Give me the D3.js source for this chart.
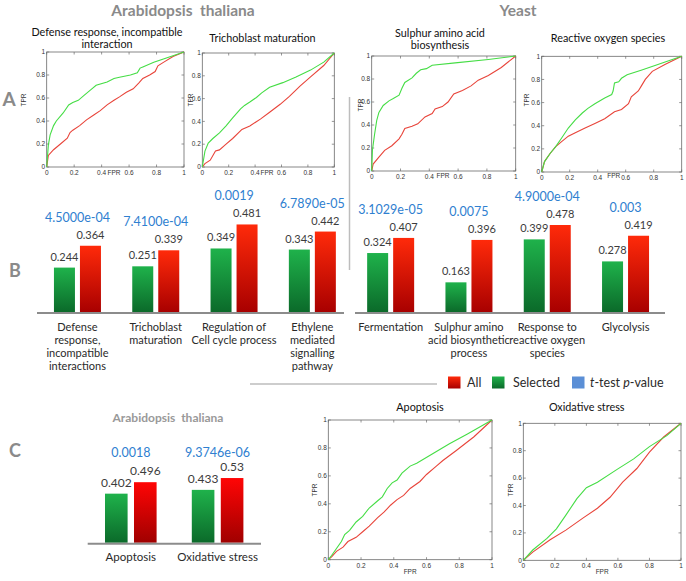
<!DOCTYPE html>
<html><head><meta charset="utf-8">
<script src="https://cdn.jsdelivr.net/npm/d3@7"></script>
<style>body{margin:0;background:#fff} svg{display:block} text{white-space:pre}</style>
</head><body>
<svg id="c" width="686" height="581"></svg>
<script>
// ---------- DATA ----------
const arabCategories = [["Defense","response,","incompatible","interactions"],["Trichoblast","maturation"],["Regulation of","Cell cycle process"],["Ethylene","mediated","signalling","pathway"]];
const arabSelected = [0.244, 0.251, 0.349, 0.343];
const arabAll = [0.364, 0.339, 0.481, 0.442];
const arabPValues = ["4.5000e-04", "7.4100e-04", "0.0019", "6.7890e-05"];

const yeastCategories = [["Fermentation"],["Sulphur amino","acid biosynthetic","process"],["Response to","reactive oxygen","species"],["Glycolysis"]];
const yeastSelected = [0.324, 0.163, 0.399, 0.278];
const yeastAll = [0.407, 0.396, 0.478, 0.419];
const yeastPValues = ["3.1029e-05", "0.0075", "4.9000e-04", "0.003"];

const cCategories = ["Apoptosis", "Oxidative stress"];
const cSelected = [0.402, 0.433];
const cAll = [0.496, 0.53];
const cPValues = ["0.0018", "9.3746e-06"];

const rocTicks = [0, 0.2, 0.4, 0.6, 0.8, 1];
const rocTickLabels = ["0", "0.2", "0.4", "0.6", "0.8", "1"];

const rocDefenseSel = [[0,0],[0.012,0.19],[0.025,0.28],[0.05,0.36],[0.07,0.40],[0.12,0.47],[0.16,0.54],[0.19,0.56],[0.23,0.58],[0.27,0.62],[0.32,0.67],[0.36,0.71],[0.44,0.74],[0.49,0.77],[0.53,0.78],[0.61,0.80],[0.66,0.82],[0.68,0.86],[0.70,0.87],[0.78,0.91],[0.85,0.94],[1,1]];
const rocDefenseAll = [[0,0],[0.012,0.10],[0.05,0.15],[0.10,0.20],[0.15,0.25],[0.17,0.30],[0.19,0.32],[0.24,0.36],[0.29,0.41],[0.34,0.45],[0.39,0.49],[0.44,0.54],[0.49,0.58],[0.53,0.61],[0.58,0.65],[0.63,0.68],[0.67,0.73],[0.70,0.77],[0.75,0.80],[0.79,0.83],[0.81,0.88],[0.85,0.91],[0.92,0.96],[1,1]];
const rocTrichoSel = [[0,0],[0.02,0.14],[0.045,0.21],[0.08,0.25],[0.13,0.30],[0.18,0.36],[0.23,0.43],[0.29,0.51],[0.32,0.54],[0.36,0.57],[0.41,0.61],[0.45,0.65],[0.51,0.70],[0.61,0.74],[0.71,0.79],[0.82,0.85],[0.92,0.92],[1,1]];
const rocTrichoAll = [[0,0],[0.02,0.03],[0.06,0.06],[0.10,0.14],[0.13,0.15],[0.18,0.20],[0.23,0.25],[0.30,0.33],[0.36,0.36],[0.44,0.42],[0.51,0.48],[0.59,0.55],[0.66,0.62],[0.74,0.71],[0.82,0.79],[0.92,0.89],[1,1]];
const rocSulphurSel = [[0,0],[0.005,0.18],[0.02,0.32],[0.035,0.44],[0.05,0.51],[0.08,0.57],[0.12,0.61],[0.15,0.63],[0.19,0.66],[0.21,0.72],[0.23,0.77],[0.28,0.81],[0.31,0.85],[0.34,0.88],[0.38,0.89],[0.42,0.92],[0.58,0.94],[0.81,0.97],[1,1]];
const rocSulphurAll = [[0,0],[0.01,0.06],[0.05,0.12],[0.09,0.18],[0.14,0.22],[0.19,0.28],[0.21,0.32],[0.23,0.37],[0.28,0.39],[0.32,0.41],[0.37,0.47],[0.42,0.50],[0.44,0.54],[0.49,0.56],[0.53,0.60],[0.57,0.67],[0.63,0.70],[0.69,0.74],[0.74,0.79],[0.81,0.83],[0.90,0.90],[1,1]];
const rocRosSel = [[0,0],[0.02,0.09],[0.06,0.16],[0.10,0.22],[0.14,0.29],[0.19,0.38],[0.24,0.45],[0.29,0.51],[0.33,0.55],[0.38,0.59],[0.45,0.64],[0.50,0.67],[0.51,0.70],[0.52,0.77],[0.55,0.78],[0.57,0.81],[0.61,0.84],[0.71,0.88],[0.83,0.93],[1,1]];
const rocRosAll = [[0,0],[0.02,0.09],[0.06,0.16],[0.10,0.22],[0.14,0.26],[0.19,0.31],[0.24,0.34],[0.31,0.38],[0.38,0.42],[0.45,0.46],[0.52,0.52],[0.57,0.54],[0.62,0.59],[0.64,0.65],[0.69,0.70],[0.71,0.74],[0.74,0.80],[0.79,0.87],[0.88,0.93],[1,1]];
const rocApoptosisSel = [[0,0],[0.02,0.03],[0.05,0.08],[0.08,0.13],[0.10,0.18],[0.13,0.21],[0.17,0.27],[0.21,0.31],[0.25,0.37],[0.30,0.42],[0.33,0.45],[0.36,0.51],[0.39,0.55],[0.42,0.57],[0.45,0.62],[0.50,0.67],[0.54,0.69],[0.64,0.76],[0.74,0.83],[0.85,0.90],[1,1]];
const rocApoptosisAll = [[0,0],[0.02,0.02],[0.05,0.06],[0.09,0.09],[0.12,0.13],[0.17,0.16],[0.21,0.20],[0.25,0.24],[0.30,0.30],[0.34,0.34],[0.38,0.39],[0.42,0.43],[0.46,0.46],[0.50,0.51],[0.56,0.56],[0.60,0.61],[0.66,0.67],[0.70,0.71],[0.78,0.78],[0.89,0.88],[1,1]];
const rocOxidativeSel = [[0,0],[0.06,0.075],[0.15,0.16],[0.21,0.23],[0.27,0.33],[0.34,0.45],[0.40,0.53],[0.47,0.57],[0.59,0.66],[0.70,0.74],[0.80,0.83],[0.91,0.91],[1,1]];
const rocOxidativeAll = [[0,0],[0.06,0.06],[0.17,0.15],[0.27,0.22],[0.38,0.31],[0.47,0.38],[0.55,0.46],[0.63,0.57],[0.72,0.67],[0.80,0.79],[0.89,0.90],[1,1]];

const legendLabels = ["All", "Selected"];

// ---------- DRAW ----------
const svg = d3.select("#c");
const FONT = "Lato, 'Open Sans', sans-serif";
const TICKFONT = "'Liberation Sans', Arial, sans-serif";
const GREEN_LINE = "#45dd45", RED_LINE = "#e8443a";
const BLUE = "#2f80d0", HEAD = "#8a8a8a";

const defs = svg.append("defs");
function grad(id, top, bottom) {
  const g = defs.append("linearGradient").attr("id", id).attr("x1",0).attr("y1",0).attr("x2",0).attr("y2",1);
  g.append("stop").attr("offset","0%").attr("stop-color",top);
  g.append("stop").attr("offset","100%").attr("stop-color",bottom);
}
grad("gGreen", "#1fb24b", "#0b6a2a");
grad("gRed", "#ff2a0a", "#a80000");
grad("gRedC", "#ff0505", "#a00000");

function txt(x, y, s, o = {}) {
  return svg.append("text").attr("x", x).attr("y", y).text(s)
    .attr("font-family", o.family || FONT).attr("font-size", o.size || 11)
    .attr("font-weight", o.weight || "normal").attr("fill", o.fill || "#222")
    .attr("text-anchor", o.anchor || "middle");
}
txt(183, 16, "Arabidopsis  thaliana", {size: 15.5, weight: "bold", fill: HEAD});
txt(518, 16, "Yeast", {size: 15.5, weight: "bold", fill: HEAD});
txt(9, 106, "A", {size: 19, weight: "bold", fill: HEAD});
txt(15, 277, "B", {size: 18, weight: "bold", fill: HEAD});
txt(15, 457, "C", {size: 18, weight: "bold", fill: HEAD});
txt(168, 422, "Arabidopsis  thaliana", {size: 12, weight: "bold", fill: "#999"});

svg.append("line").attr("x1", 349.5).attr("x2", 349.5).attr("y1", 97).attr("y2", 270).attr("stroke", "#bdbdbd").attr("stroke-width", 1.5);
svg.append("line").attr("x1", 250).attr("x2", 437).attr("y1", 384).attr("y2", 384).attr("stroke", "#bdbdbd").attr("stroke-width", 1.5);

// ---------- ROC panels ----------
function rocPanel(cfg, sel, all) {
  const x = d3.scaleLinear().domain([0,1]).range([cfg.x0, cfg.x1]);
  const y = d3.scaleLinear().domain([0,1]).range([cfg.y1, cfg.y0]);
  const g = svg.append("g");
  g.append("rect").attr("x", cfg.x0).attr("y", cfg.y0).attr("width", cfg.x1-cfg.x0).attr("height", cfg.y1-cfg.y0)
    .attr("fill", "#fff").attr("stroke", "#6a6a6a").attr("stroke-width", 0.8);
  const tl = 2.5;
  rocTicks.forEach((t, i) => {
    g.append("line").attr("x1", x(t)).attr("x2", x(t)).attr("y1", cfg.y1).attr("y2", cfg.y1-tl).attr("stroke", "#6a6a6a").attr("stroke-width", 0.7);
    g.append("line").attr("x1", x(t)).attr("x2", x(t)).attr("y1", cfg.y0).attr("y2", cfg.y0+tl).attr("stroke", "#6a6a6a").attr("stroke-width", 0.7);
    g.append("line").attr("y1", y(t)).attr("y2", y(t)).attr("x1", cfg.x0).attr("x2", cfg.x0+tl).attr("stroke", "#6a6a6a").attr("stroke-width", 0.7);
    g.append("line").attr("y1", y(t)).attr("y2", y(t)).attr("x1", cfg.x1).attr("x2", cfg.x1-tl).attr("stroke", "#6a6a6a").attr("stroke-width", 0.7);
    g.append("text").attr("x", x(t)).attr("y", cfg.y1 + 8).text(rocTickLabels[i])
      .attr("font-family", TICKFONT).attr("font-size", 6.5).attr("fill", "#333").attr("text-anchor", "middle");
    g.append("text").attr("x", cfg.x0 - 1.5).attr("y", y(t) + 2.2).text(rocTickLabels[i])
      .attr("font-family", TICKFONT).attr("font-size", 6.5).attr("fill", "#333").attr("text-anchor", "end");
  });
  const line = d3.line().x(d => x(d[0])).y(d => y(d[1]));
  g.append("path").attr("d", line(all)).attr("fill", "none").attr("stroke", RED_LINE).attr("stroke-width", 1.1);
  g.append("path").attr("d", line(sel)).attr("fill", "none").attr("stroke", GREEN_LINE).attr("stroke-width", 1.1);
  cfg.title.forEach((t, i) => {
    txt(cfg.tx, cfg.ty + i * 12, t, {size: cfg.tsize || 10.8, fill: "#111"});
  });
  g.append("text").attr("x", x(cfg.fprX)).attr("y", cfg.y1 + 8 + (cfg.fprDy || 0)).text("FPR")
    .attr("font-family", TICKFONT).attr("font-size", 6.5).attr("fill", "#333").attr("text-anchor", "middle");
  g.append("text").attr("transform", `translate(${cfg.tprX},${cfg.tprY}) rotate(-90)`).text("TPR")
    .attr("font-family", TICKFONT).attr("font-size", 6.5).attr("fill", "#333").attr("text-anchor", "middle");
}

rocPanel({x0: 46.7, x1: 184, y0: 52, y1: 167, title: ["Defense response, incompatible", "interaction"], tx: 107, ty: 36, fprX: 0.49, tprX: 26, tprY: 100}, rocDefenseSel, rocDefenseAll);
rocPanel({x0: 202.3, x1: 334.3, y0: 53, y1: 167, title: ["Trichoblast maturation"], tx: 262.5, ty: 42, fprX: 0.49, tprX: 193, tprY: 100}, rocTrichoSel, rocTrichoAll);
rocPanel({x0: 371.7, x1: 515.7, y0: 56, y1: 171, title: ["Sulphur amino acid", "biosynthesis"], tx: 440, ty: 37, fprX: 0.495, fprDy: -1, tprX: 363, tprY: 105}, rocSulphurSel, rocSulphurAll);
rocPanel({x0: 541.7, x1: 681.7, y0: 56.3, y1: 172, title: ["Reactive oxygen species"], tx: 608, ty: 42, fprX: 0.515, fprDy: -2.5, tprX: 529, tprY: 100}, rocRosSel, rocRosAll);
rocPanel({x0: 328.3, x1: 492, y0: 420, y1: 559.7, title: ["Apoptosis"], tx: 420, ty: 411, fprX: 0.5, fprDy: 6.5, tprX: 317, tprY: 490}, rocApoptosisSel, rocApoptosisAll);
rocPanel({x0: 523.3, x1: 681, y0: 423.3, y1: 560.3, title: ["Oxidative stress"], tx: 586.7, ty: 411, fprX: 0.5, fprDy: 6, tprX: 513, tprY: 490}, rocOxidativeSel, rocOxidativeAll);

// ---------- Bar groups ----------
function barGroup(cfg, cats, sel, all, pvals) {
  const x = d3.scaleBand().domain(d3.range(cats.length)).range([cfg.r0, cfg.r1]).padding(0);
  const y = d3.scaleLinear().domain([0, 0.5]).range([cfg.base, cfg.base - cfg.pxHalf]);
  const g = svg.append("g");
  cats.forEach((c, i) => {
    const cx = x(i) + x.bandwidth()/2;
    const w = cfg.bw, gap = cfg.gap;
    g.append("rect").attr("x", cx - gap - w).attr("y", y(sel[i])).attr("width", w).attr("height", cfg.base - y(sel[i])).attr("fill", "url(#gGreen)");
    g.append("rect").attr("x", cx + gap).attr("y", y(all[i])).attr("width", w).attr("height", cfg.base - y(all[i])).attr("fill", cfg.redFill);
    txt(cx - gap - w/2, y(sel[i]) - 7, String(sel[i]), {size: cfg.vsize, fill: "#3c3c3c"});
    txt(cx + gap + w/2, y(all[i]) - 7, String(all[i]), {size: cfg.vsize, fill: "#3c3c3c"});
    const py = cfg.pY != null ? cfg.pY : y(Math.max(sel[i], all[i])) - 24;
    txt(cx, py, pvals[i], {size: cfg.psize, fill: BLUE});
    const lines = Array.isArray(c) ? c : [c];
    lines.forEach((l, k) => txt(cx, cfg.base + cfg.labDy + k * 13.3, l, {size: cfg.lsize, fill: "#2a2a2a"}));
  });
  g.append("line").attr("x1", cfg.a0).attr("x2", cfg.a1).attr("y1", cfg.base + 1).attr("y2", cfg.base + 1).attr("stroke", "#8c8c8c").attr("stroke-width", 2);
}

barGroup({r0: 38.3, r1: 351.5, base: 312, pxHalf: 91, bw: 21, gap: 2.5, a0: 37, a1: 344, vsize: 11, psize: 12.5, lsize: 11, labDy: 18.5, redFill: "url(#gRed)"}, arabCategories, arabSelected, arabAll, arabPValues);
barGroup({r0: 351.5, r1: 664.7, base: 312, pxHalf: 91, bw: 21, gap: 2.5, a0: 355, a1: 665, vsize: 11, psize: 12.5, lsize: 11, labDy: 18.5, redFill: "url(#gRed)"}, yeastCategories, yeastSelected, yeastAll, yeastPValues);
barGroup({r0: 87.4, r1: 261, base: 542.7, pxHalf: 61, bw: 22.6, gap: 3.2, a0: 87.7, a1: 261, vsize: 12, psize: 12.5, lsize: 11.5, labDy: 18.5, redFill: "url(#gRedC)", pY: 456.5}, cCategories, cSelected, cAll, cPValues);

// ---------- Legend ----------
const legend = svg.append("g");
const legendItems = [{fill: "url(#gRed)", x: 448}, {fill: "url(#gGreen)", x: 492}, {fill: "#5b8fd6", x: 572}];
legendItems.forEach(it => {
  legend.append("rect").attr("x", it.x).attr("y", 376.5).attr("width", 12.5).attr("height", 12).attr("fill", it.fill);
});
txt(467, 387, legendLabels[0], {size: 12.5, anchor: "start", fill: "#2a2a2a"});
txt(513, 387, legendLabels[1], {size: 12.5, anchor: "start", fill: "#2a2a2a"});
const tt = txt(590, 387, "", {size: 12.5, anchor: "start", fill: "#2a2a2a"});
tt.append("tspan").attr("font-style", "italic").text("t");
tt.append("tspan").text("-test ");
tt.append("tspan").attr("font-style", "italic").text("p");
tt.append("tspan").text("-value");
</script>
</body></html>
